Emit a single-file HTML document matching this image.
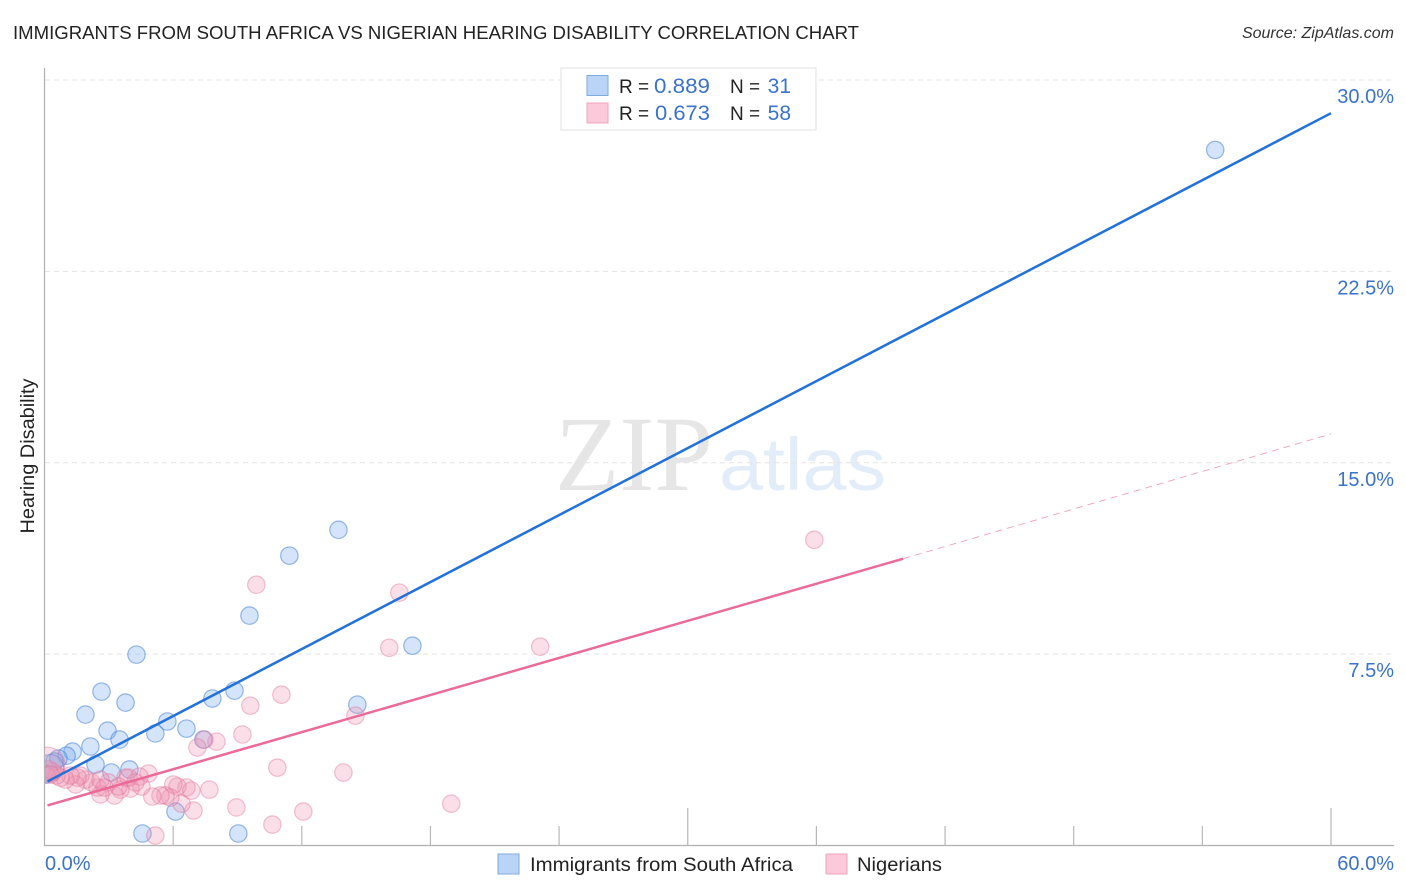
<!DOCTYPE html>
<html>
<head>
<meta charset="utf-8">
<title>Immigrants from South Africa vs Nigerian Hearing Disability Correlation Chart</title>
<style>
html,body{margin:0;padding:0;background:#fff;}
svg{display:block;font-family:"Liberation Sans",sans-serif;}
</style>
</head>
<body>
<svg id="chart" xmlns="http://www.w3.org/2000/svg" width="1406" height="892" viewBox="0 0 1406 892">
  <defs><clipPath id="plot-clip"><rect x="45" y="68" width="1350" height="777"></rect></clipPath></defs>
  <text x="13" y="39" font-size="18.5" fill="#222" textLength="846" lengthAdjust="spacingAndGlyphs">IMMIGRANTS FROM SOUTH AFRICA VS NIGERIAN HEARING DISABILITY CORRELATION CHART</text>
  <text x="1394" y="38" font-size="16" font-style="italic" fill="#333" text-anchor="end">Source: ZipAtlas.com</text>
  <g>
    <text x="555" y="490" font-family="'Liberation Serif',serif" font-size="107" fill="#e6e6e6" textLength="158" lengthAdjust="spacingAndGlyphs">ZIP</text>
    <text x="719" y="490" font-size="74" fill="#e3edf9" textLength="167" lengthAdjust="spacingAndGlyphs">atlas</text>
  </g>
  <g id="grid"></g>
  <g id="axes"></g>
  <g id="points" clip-path="url(#plot-clip)"></g>
  <g id="trends"></g>
  <g id="labels"></g>
  <text transform="translate(34,456) rotate(-90)" font-size="19.5" fill="#222" text-anchor="middle" textLength="155" lengthAdjust="spacingAndGlyphs">Hearing Disability</text>

  <g>
    <rect x="561" y="68" width="255" height="62" fill="#fff" stroke="#e2e2e2" stroke-width="1"></rect>
    <rect x="587" y="75.5" width="21" height="20" fill="#b9d4f7" stroke="#7eaae0" stroke-width="1"></rect>
    <rect x="587" y="103" width="21" height="20" fill="#fcc9da" stroke="#f0a3bd" stroke-width="1"></rect>
    <text x="619" y="93" font-size="19" fill="#222">R =</text>
    <text x="654" y="93" font-size="21" fill="#3b72cc" textLength="56" lengthAdjust="spacingAndGlyphs">0.889</text>
    <text x="730" y="93" font-size="19" fill="#222">N =</text>
    <text x="791" y="93" font-size="21" fill="#3b72cc" text-anchor="end">31</text>
    <text x="619" y="120" font-size="19" fill="#222">R =</text>
    <text x="655" y="120" font-size="21" fill="#3b72cc" textLength="55" lengthAdjust="spacingAndGlyphs">0.673</text>
    <text x="730" y="120" font-size="19" fill="#222">N =</text>
    <text x="791" y="120" font-size="21" fill="#3b72cc" text-anchor="end">58</text>
  </g>

  <g>
    <rect x="498" y="854" width="21" height="20" fill="#b9d4f7" stroke="#7eaae0" stroke-width="1"></rect>
    <text x="530" y="871" font-size="19.5" fill="#222" textLength="263" lengthAdjust="spacingAndGlyphs">Immigrants from South Africa</text>
    <rect x="826" y="854" width="21" height="20" fill="#fcc9da" stroke="#f0a3bd" stroke-width="1"></rect>
    <text x="857" y="871" font-size="19.5" fill="#222" textLength="85" lengthAdjust="spacingAndGlyphs">Nigerians</text>
  </g>
</svg>
<script>
const yTicks = [7.5, 15, 22.5, 30];
const yTickLabels = ["7.5%", "15.0%", "22.5%", "30.0%"];
const xTicks = [0, 6, 12, 18, 24, 30, 36, 42, 48, 54, 60];
const xMajorTicks = [30, 60];
const xEndTicks = [0, 60];
const xEndLabels = ["0.0%", "60.0%"];

const blueX = [54.6,13.71,11.42,9.56,4.29,17.16,2.66,8.86,7.83,3.78,14.59,1.91,5.73,6.62,2.94,5.17,3.5,7.41,2.14,1.31,1.03,0.65,0.47,0.28,2.38,3.12,3.96,4.57,9.04,6.11,0.09];
const blueY = [27.26,12.37,11.36,9.01,7.48,7.83,6.03,6.07,5.76,5.6,5.52,5.13,4.86,4.58,4.5,4.39,4.15,4.15,3.88,3.68,3.52,3.41,3.29,3.05,3.17,2.86,2.98,0.47,0.47,1.33,2.78];
const blueWeight = [1,1,1,1,1,1,1,1,1,1,1,1,1,1,1,1,1,1,1,1,1,1,1,2.3,1,1,1,1,1,1,1];

const pinkX = [35.9,16.55,9.88,23.12,16.08,11.05,9.6,14.5,9.23,8.02,7.46,7.13,10.86,13.94,18.97,12.07,10.63,8.95,5.17,7.69,6.95,6.39,6.62,6.2,6.01,6.85,5.87,5.64,5.41,5.03,4.85,4.52,4.43,4.01,3.78,3.54,3.26,2.98,2.61,2.47,2.19,1.91,1.68,1.45,1.54,1.21,0.98,0.75,0.56,0.37,0.19,0.14,0.28,4.24,3.92,3.45,2.8,2.61];
const pinkY = [11.98,9.91,10.22,7.79,7.75,5.91,5.48,5.09,4.35,4.07,4.15,3.84,3.05,2.86,1.64,1.33,0.82,1.49,0.39,2.19,1.37,1.64,2.27,2.31,2.39,2.15,1.88,1.96,1.96,1.92,2.82,2.31,2.7,2.23,2.66,2.19,1.96,2.47,2,2.27,2.47,2.58,2.74,2.39,2.66,2.74,2.58,2.66,2.74,2.9,2.98,3.17,2.78,2.47,2.66,2.31,2.27,2.58];
const pinkWeight = [1,1,1,1,1,1,1,1,1,1,1,1,1,1,1,1,1,1,1,1,1,1,1,1,1,1,1,1,1,1,1,1,1,1,1,1,1,1,1,1,1,1,1,1,1,1,1,1,1,1,1,4,1,1,1,1,1,1];

const blueTrendX = [0.14, 60];
const blueTrendY = [2.51, 28.7];
const pinkSolidX = [0.14, 40.05];
const pinkSolidY = [1.57, 11.24];
const pinkDashX = [40.05, 60];
const pinkDashY = [11.24, 16.13];

const NS = "http://www.w3.org/2000/svg";
function sx(v){ return 44.5 + v * (1331 - 44.5) / 60; }
function sy(v){ return 845.5 - v * (845.5 - 80) / 30; }
function make(tag, attrs, parent){
  const el = document.createElementNS(NS, tag);
  for (const k in attrs) el.setAttribute(k, attrs[k]);
  parent.appendChild(el);
  return el;
}
const gridG = document.getElementById("grid");
const axesG = document.getElementById("axes");
const pointsG = document.getElementById("points");
const trendsG = document.getElementById("trends");
const labelsG = document.getElementById("labels");

yTicks.forEach(function(t, i){
  const g = make("line", {x1:45, x2:1393, y1:sy(t), y2:sy(t), stroke:"#e4e4e4", "stroke-width":1, "stroke-dasharray":"5 4"}, gridG);
  
  
  const l = make("text", {x:1394, y:sy(t)+23, "font-size":20, fill:"#3b72cc", "text-anchor":"end"}, labelsG);
  l.textContent = yTickLabels[i];
  
  
});

const yAxis = make("line", {x1:44.5, x2:44.5, y1:68, y2:846, stroke:"#b0b0b0", "stroke-width":1.2}, axesG);


const xAxis = make("line", {x1:44, x2:1394, y1:845.5, y2:845.5, stroke:"#b0b0b0", "stroke-width":1.2}, axesG);


xTicks.forEach(function(t){
  if (t === 0) return;
  const top = xMajorTicks.indexOf(t) >= 0 ? 808 : 826;
  const m = make("line", {x1:sx(t), x2:sx(t), y1:top, y2:845.5, stroke:"#b8b8b8", "stroke-width":1.2}, axesG);
  
  
});
xEndTicks.forEach(function(t, i){
  const l = make("text", {x: i === 0 ? 45 : 1394, y:870, "font-size":20, fill:"#3b72cc", "text-anchor": i === 0 ? "start" : "end"}, labelsG);
  l.textContent = xEndLabels[i];
  
  
});

function drawPoints(xs, ys, ws, fill, stroke){
  xs.forEach(function(x, i){
    const c = make("circle", {cx:sx(x), cy:sy(ys[i]), r:8.7*Math.sqrt(ws[i]), fill:fill, stroke:stroke, "stroke-width":1.2}, pointsG);
    
    
  });
}
drawPoints(blueX, blueY, blueWeight, "rgba(120,170,240,0.32)", "rgba(70,130,215,0.55)");
drawPoints(pinkX, pinkY, pinkWeight, "rgba(240,150,180,0.3)", "rgba(225,110,150,0.42)");

const tb = make("line", {x1:sx(blueTrendX[0]), y1:sy(blueTrendY[0]), x2:sx(blueTrendX[1]), y2:sy(blueTrendY[1]), stroke:"#2272d9", "stroke-width":2.5}, trendsG);


const tp = make("line", {x1:sx(pinkSolidX[0]), y1:sy(pinkSolidY[0]), x2:sx(pinkSolidX[1]), y2:sy(pinkSolidY[1]), stroke:"#ea6a98", "stroke-width":2.5}, trendsG);


const td = make("line", {x1:sx(pinkDashX[0]), y1:sy(pinkDashY[0]), x2:sx(pinkDashX[1]), y2:sy(pinkDashY[1]), stroke:"#f0a0bd", "stroke-width":0.9, "stroke-dasharray":"7 5"}, trendsG);


</script>
</body>
</html>
